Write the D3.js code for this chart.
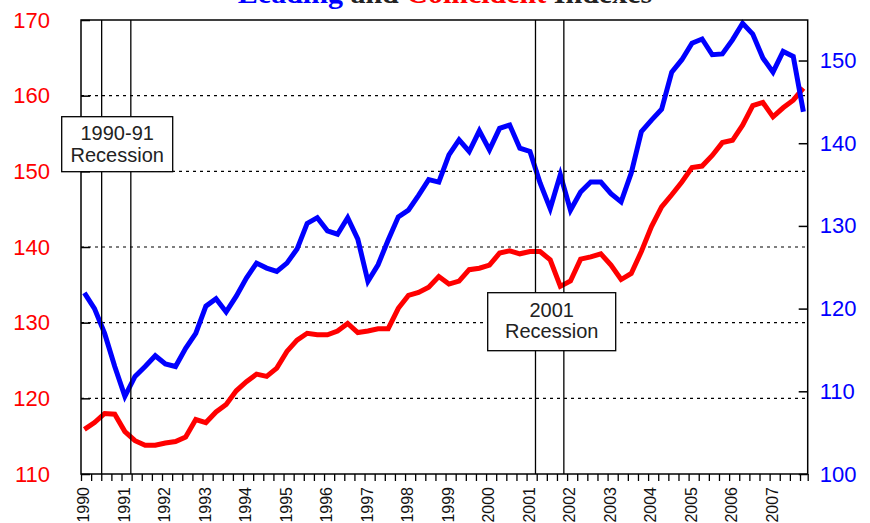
<!DOCTYPE html>
<html>
<head>
<meta charset="utf-8">
<script src="https://cdnjs.cloudflare.com/ajax/libs/d3/7.8.5/d3.min.js"></script>
<style>
body { margin: 0; background: #fff; }
text { font-family: "Liberation Sans", Arial, sans-serif; }
</style>
</head>
<body>
<svg width="870" height="523"></svg>
<script>
// quarterly readings, 1990Q1 .. 2007Q4
const years = [1990, 1991, 1992, 1993, 1994, 1995, 1996, 1997, 1998, 1999,
	2000, 2001, 2002, 2003, 2004, 2005, 2006, 2007];
const quarterNames = ['Q1', 'Q2', 'Q3', 'Q4'];

// leading index (right axis)
const leading = [
	121.9, 120.0, 117.0, 113.0, 109.4, 111.8, 113.0, 114.3,
	113.3, 113.0, 115.2, 117.0, 120.3, 121.2, 119.6, 121.5,
	123.7, 125.5, 124.9, 124.5, 125.5, 127.2, 130.3, 131.0,
	129.4, 129.0, 131.0, 128.4, 123.3, 125.3, 128.3, 131.1,
	131.9, 133.7, 135.6, 135.3, 138.6, 140.4, 139.0, 141.5,
	139.2, 141.8, 142.2, 139.4, 139.0, 135.2, 132.1, 136.2,
	131.9, 134.1, 135.3, 135.3, 133.9, 132.9, 136.4, 141.4,
	142.8, 144.1, 148.6, 150.1, 152.1, 152.6, 150.7, 150.8,
	152.5, 154.5, 153.2, 150.3, 148.6, 151.1, 150.5, 143.8
];

// coincident index (left axis)
const coincident = [
	115.9, 116.8, 118.0, 117.9, 115.6, 114.4, 113.8, 113.8,
	114.1, 114.3, 114.9, 117.2, 116.8, 118.2, 119.2, 121.0,
	122.2, 123.2, 122.9, 124.0, 126.2, 127.7, 128.6, 128.4,
	128.4, 128.9, 129.9, 128.7, 128.9, 129.2, 129.2, 131.9,
	133.6, 134.0, 134.7, 136.1, 135.1, 135.5, 137.0, 137.2,
	137.6, 139.2, 139.5, 139.1, 139.4, 139.4, 138.3, 134.8,
	135.5, 138.4, 138.7, 139.1, 137.6, 135.7, 136.5, 139.4,
	142.7, 145.3, 146.9, 148.6, 150.5, 150.7, 152.1, 153.8,
	154.1, 156.1, 158.7, 159.1, 157.2, 158.4, 159.4, 161.0
];

const leftTicks = [110, 120, 130, 140, 150, 160, 170];
const rightTicks = [100, 110, 120, 130, 140, 150];

const recessions = [
	{ start: 1990.51, end: 1991.23, label: ['1990-91', 'Recession'] },
	{ start: 2001.22, end: 2001.92, label: ['2001', 'Recession'] }
];

// quarter -> decimal year (plotted one month into the quarter)
function quarterTime(name) {
	const yr = +name.slice(0, 4);
	const q = quarterNames.indexOf(name.slice(4));
	return yr + q / 4 + 1 / 12;
}

const quarters = [];
years.forEach(y => quarterNames.forEach(q => quarters.push(y + q)));

const leadData = quarters.map((q, i) => ({ t: quarterTime(q), v: leading[i] }));
const coinData = quarters.map((q, i) => ({ t: quarterTime(q), v: coincident[i] }));

const svg = d3.select('svg');
const plotL = 81, plotR = 807.7, plotT = 20, plotB = 474;

const x = d3.scaleLinear().domain([1990, 2007.94]).range([plotL, plotR]);
const yL = d3.scaleLinear().domain([110, 170]).range([plotB, plotT]);
const yR = d3.scaleLinear().domain([100, 154.9]).range([plotB, plotT]);

// title (mostly cut off by the top edge)
const title = svg.append('text')
	.attr('x', 445)
	.attr('y', 3)
	.attr('text-anchor', 'middle')
	.style('font-family', '"Liberation Serif", "Times New Roman", serif')
	.style('font-weight', 'bold')
	.style('font-size', '30px');
title.append('tspan').attr('fill', '#0000ff').text('Leading');
title.append('tspan').attr('fill', '#222').text(' and ');
title.append('tspan').attr('fill', '#ff0000').text('Coincident');
title.append('tspan').attr('fill', '#222').text(' Indexes');

// dotted grid
svg.append('g')
	.selectAll('line')
	.data(leftTicks.filter(d => d > 110 && d < 170))
	.enter().append('line')
	.attr('x1', plotL).attr('x2', plotR)
	.attr('y1', d => yL(d)).attr('y2', d => yL(d))
	.attr('stroke', '#000')
	.attr('stroke-width', 1.2)
	.attr('stroke-dasharray', '3,4');

const line = d3.line()
	.x(d => x(d.t));

svg.append('path')
	.datum(coinData)
	.attr('fill', 'none')
	.attr('stroke', '#ff0000')
	.attr('stroke-width', 5)
	.attr('d', line.y(d => yL(d.v)));

svg.append('path')
	.datum(leadData)
	.attr('fill', 'none')
	.attr('stroke', '#0000ff')
	.attr('stroke-width', 5)
	.attr('d', line.y(d => yR(d.v)));

// recession markers
const recLines = [];
recessions.forEach(r => { recLines.push(r.start); recLines.push(r.end); });
svg.append('g')
	.selectAll('line')
	.data(recLines)
	.enter().append('line')
	.attr('x1', d => x(d)).attr('x2', d => x(d))
	.attr('y1', plotT).attr('y2', plotB)
	.attr('stroke', '#000')
	.attr('stroke-width', 1.3);

// frame
svg.append('rect')
	.attr('x', plotL).attr('y', plotT)
	.attr('width', plotR - plotL).attr('height', plotB - plotT)
	.attr('fill', 'none')
	.attr('stroke', '#000')
	.attr('stroke-width', 1.5);

// recession labels
const boxes = [
	{ x: 61.7, y: 116.7, w: 111, h: 55, lines: [140, 161.5] },
	{ x: 487.7, y: 292.7, w: 128, h: 58, lines: [316.5, 337.5] }
];
boxes.forEach((b, i) => {
	const g = svg.append('g');
	g.append('rect')
		.attr('x', b.x).attr('y', b.y)
		.attr('width', b.w).attr('height', b.h)
		.attr('fill', '#fff')
		.attr('stroke', '#000')
		.attr('stroke-width', 1.3);
	recessions[i].label.forEach((t, j) => {
		g.append('text')
			.attr('x', b.x + b.w / 2)
			.attr('y', b.lines[j])
			.attr('text-anchor', 'middle')
			.attr('fill', '#222')
			.style('font-size', '20px')
			.text(t);
	});
});

// left axis
const axL = svg.append('g')
	.attr('transform', `translate(${plotL},0)`)
	.call(d3.axisLeft(yL).tickValues(leftTicks).tickSize(-9).tickPadding(31));
axL.select('.domain').remove();
axL.selectAll('line').attr('stroke-width', 1.5);
axL.selectAll('text')
	.attr('fill', '#ff0000')
	.style('font-size', '22px')
	.style('font-family', '"Liberation Sans", Arial, sans-serif');

// right axis
const axR = svg.append('g')
	.attr('transform', `translate(${plotR},0)`)
	.call(d3.axisRight(yR).tickValues(rightTicks).tickSize(-9).tickPadding(12));
axR.select('.domain').remove();
axR.selectAll('line').attr('stroke-width', 1.5);
axR.selectAll('text')
	.attr('fill', '#0000ff')
	.style('font-size', '22px')
	.style('font-family', '"Liberation Sans", Arial, sans-serif');

// bottom axis: quarter ticks, rotated year labels
const qTicks = quarters.map(q => +q.slice(0, 4) + quarterNames.indexOf(q.slice(4)) / 4);
qTicks.push(x.domain()[1]);
const axB = svg.append('g')
	.attr('transform', `translate(0,${plotB})`)
	.call(d3.axisBottom(x).tickValues(qTicks).tickSize(7).tickFormat(''));
axB.select('.domain').remove();
axB.selectAll('line').attr('stroke-width', 1.3);

svg.append('g')
	.selectAll('text')
	.data(years)
	.enter().append('text')
	.attr('transform', d => `translate(${x(d) + 2.5},487) rotate(-90)`)
	.attr('text-anchor', 'end')
	.attr('dy', '0.35em')
	.attr('fill', '#111')
	.style('font-size', '16px')
	.text(d => d);
</script>
</body>
</html>
